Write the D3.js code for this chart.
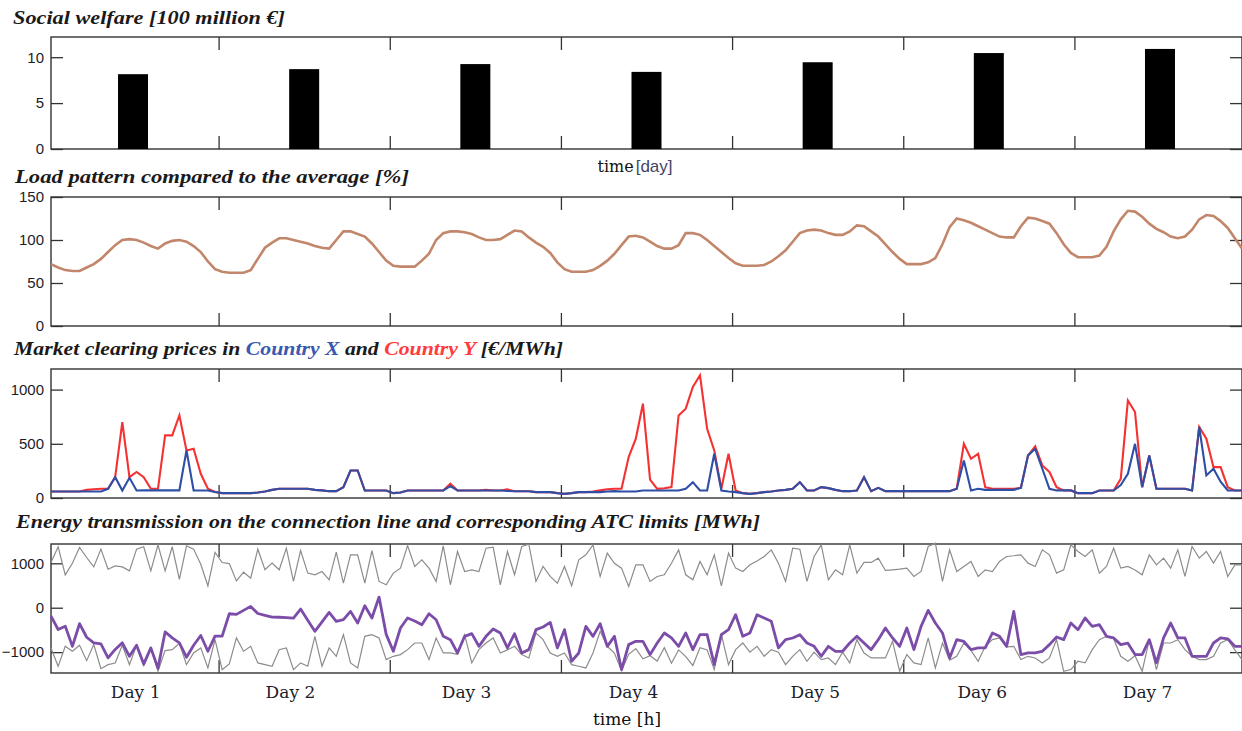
<!DOCTYPE html>
<html>
<head>
<meta charset="utf-8">
<script src="https://cdn.jsdelivr.net/npm/d3@7"></script>
<style>
  body { margin: 0; background: #fff; }
  svg { display: block; }
  .tick text { font-family: "Liberation Sans", Arial, sans-serif; font-size: 15px; fill: #1c1c28; }
  .title { font-family: "Liberation Serif", serif; font-weight: bold; font-style: italic; font-size: 19px; fill: #1a1a1a; }
</style>
</head>
<body>
<svg id="chart" width="1242" height="731"></svg>
<script>
// --- data -------------------------------------------------------------
const days = [1, 2, 3, 4, 5, 6, 7];
const welfare = [8.15, 8.7, 9.25, 8.4, 9.45, 10.45, 10.9];
const hours = d3.range(1, 169);

const load = [
  72, 68, 65, 64, 64, 68, 72, 78, 86, 94,
  100, 101, 100, 97, 93, 90, 96, 99, 100, 98,
  93, 86, 75, 66, 63, 62, 62, 62, 65, 78,
  91, 97, 102, 102, 100, 98, 96, 93, 91, 90,
  100, 110, 110, 107, 104, 96, 86, 76, 70, 69,
  69, 69, 76, 84, 100, 108, 110, 110, 109, 107,
  103, 100, 100, 101, 106, 111, 110, 103, 97, 92,
  85, 74, 66, 63, 63, 63, 65, 70, 76, 84,
  94, 104, 105, 103, 98, 93, 90, 90, 94, 108,
  108, 106, 100, 93, 86, 79, 73, 70, 70, 70,
  71, 75, 81, 88, 98, 108, 111, 112, 111, 108,
  106, 106, 110, 117, 116, 110, 104, 95, 86, 78,
  72, 72, 72, 74, 79, 95, 115, 125, 123, 120,
  116, 112, 108, 104, 103, 103, 116, 126, 125, 122,
  119, 108, 95, 85, 80, 80, 80, 82, 92, 110,
  124, 134, 133, 127, 119, 113, 109, 104, 102, 104,
  112, 124, 129, 128, 122, 114, 102, 90
];

const priceX = [
  60, 60, 60, 60, 60, 60, 60, 60, 85, 192,
  69, 186, 69, 70, 70, 70, 70, 70, 70, 439,
  69, 69, 69, 55, 45, 45, 45, 45, 45, 50,
  60, 75, 85, 85, 85, 85, 85, 75, 70, 63,
  63, 100, 254, 254, 69, 69, 69, 69, 45, 50,
  69, 69, 69, 69, 69, 69, 109, 69, 69, 69,
  69, 69, 69, 69, 65, 62, 62, 62, 54, 54,
  54, 45, 38, 45, 54, 54, 54, 54, 60, 63,
  60, 60, 60, 69, 69, 69, 69, 69, 69, 85,
  146, 69, 69, 408, 69, 60, 54, 45, 38, 45,
  54, 60, 69, 75, 85, 146, 69, 69, 100, 91,
  75, 63, 63, 69, 192, 63, 94, 63, 63, 63,
  63, 63, 63, 63, 63, 63, 63, 85, 347, 69,
  85, 75, 75, 75, 75, 75, 94, 393, 454, 270,
  85, 70, 70, 70, 45, 45, 45, 69, 69, 69,
  120, 223, 500, 100, 393, 85, 85, 85, 85, 85,
  69, 655, 208, 270, 150, 69, 69, 69
];

const priceY = [
  60, 60, 60, 60, 60, 75, 80, 85, 85, 192,
  700, 192, 240, 192, 85, 85, 578, 578, 762, 439,
  454, 223, 85, 55, 45, 45, 45, 45, 45, 50,
  60, 75, 85, 85, 85, 85, 85, 75, 70, 63,
  63, 100, 254, 254, 69, 69, 69, 69, 45, 50,
  69, 69, 69, 69, 69, 69, 131, 69, 69, 69,
  69, 75, 69, 69, 80, 62, 62, 62, 54, 54,
  54, 45, 38, 45, 54, 54, 60, 70, 80, 85,
  85, 377, 547, 870, 170, 85, 90, 100, 762, 824,
  1024, 1132, 639, 439, 85, 408, 69, 45, 38, 45,
  54, 60, 69, 75, 85, 146, 69, 69, 100, 91,
  75, 63, 63, 69, 192, 63, 94, 63, 63, 63,
  63, 63, 63, 63, 63, 63, 63, 85, 500, 362,
  408, 100, 85, 85, 85, 85, 94, 393, 477, 300,
  240, 100, 70, 70, 45, 45, 45, 69, 69, 69,
  177, 900, 793, 100, 393, 85, 85, 85, 85, 85,
  69, 655, 547, 285, 285, 100, 69, 69
];

const flow = [
  -190, -490, -415, -870, -360, -665, -790, -815, -1130, -940,
  -790, -1095, -845, -1270, -905, -1360, -545, -680, -790, -1115,
  -845, -625, -980, -640, -640, -136, -150, -60, 30, -130,
  -170, -210, -215, -225, -232, -30, -280, -532, -320, -105,
  -307, -270, -82, -345, 45, -232, 240, -600, -981, -457,
  -232, -300, -382, -135, -270, -644, -719, -1019, -644, -584,
  -869, -644, -479, -569, -906, -584, -1019, -944, -494, -434,
  -330, -906, -494, -1206, -1019, -419, -644, -360, -869, -644,
  -1393, -831, -756, -756, -1056, -794, -569, -681, -869, -569,
  -944, -607, -607, -1281, -607, -494, -157, -644, -569, -157,
  -232, -307, -906, -719, -682, -607, -794, -869, -1094, -869,
  -981, -981, -794, -644, -794, -944, -719, -457, -681, -869,
  -457, -944, -419, -60, -345, -569, -1131, -719, -760, -944,
  -906, -906, -569, -644, -869, -82, -1056, -1019, -1019, -981,
  -831, -659, -719, -345, -494, -232, -419, -382, -644, -681,
  -831, -800, -1056, -1056, -719, -1243, -681, -345, -681, -681,
  -1094, -1094, -1094, -794, -681, -700, -869, -869
];

const atcUp = [
  1018, 1373, 739, 1000, 1357, 1131, 920, 1320, 867, 943,
  920, 830, 1320, 1373, 830, 1418, 830, 1373, 641, 1395,
  1320, 980, 490, 1244, 1018, 995, 603, 800, 667, 1318,
  854, 1004, 854, 1341, 592, 1288, 780, 742, 816, 629,
  1251, 554, 1191, 1191, 554, 1288, 592, 517, 779, 891,
  1400, 929, 1079, 891, 592, 1393, 517, 1266, 816, 854,
  816, 1341, 1363, 517, 1266, 742, 1378, 1431, 592, 929,
  704, 554, 929, 494, 1079, 1191, 1416, 704, 1228, 1000,
  891, 479, 966, 966, 592, 704, 742, 1000, 1303, 742,
  629, 1041, 742, 1191, 494, 1228, 891, 816, 966, 1050,
  1153, 1303, 1004, 592, 1341, 1318, 592, 1153, 1416, 629,
  854, 742, 1416, 779, 1019, 1019, 1116, 839, 854, 870,
  891, 704, 816, 1378, 1453, 592, 1303, 816, 930, 1041,
  704, 854, 816, 1041, 1153, 1170, 1191, 1004, 929, 1303,
  1191, 779, 854, 1416, 1266, 1153, 1303, 779, 929, 1341,
  891, 929, 850, 742, 1191, 966, 1116, 891, 1303, 704,
  1378, 1116, 1266, 1004, 1266, 704, 966, 966
];

const atcLo = [
  -905, -1320, -867, -980, -845, -1192, -830, -1373, -1282, -1244,
  -845, -1282, -845, -1300, -905, -1433, -965, -943, -800, -1282,
  -1018, -905, -1357, -716, -1395, -1267, -679, -980, -869, -1243,
  -1281, -1318, -944, -906, -1393, -1243, -1318, -644, -1318, -906,
  -1094, -607, -1243, -1356, -644, -607, -682, -1168, -1094, -1056,
  -944, -794, -794, -1168, -682, -1019, -1019, -1050, -607, -1243,
  -944, -794, -682, -1019, -950, -869, -1056, -1131, -569, -719,
  -1019, -1094, -1019, -1281, -1318, -1356, -1019, -532, -869, -1019,
  -1420, -1050, -920, -1150, -1080, -1200, -900, -1250, -950, -1100,
  -1300, -900, -950, -1393, -607, -1281, -944, -794, -1000, -869,
  -1094, -944, -1000, -1281, -1094, -944, -1206, -1000, -1168, -1131,
  -1281, -1000, -1243, -719, -1019, -1131, -1131, -1131, -756, -1431,
  -1056, -1243, -1281, -681, -1356, -794, -1180, -1094, -794, -960,
  -1206, -869, -719, -681, -880, -869, -1168, -1094, -1131, -1243,
  -1131, -719, -1431, -1393, -1206, -1243, -944, -719, -644, -700,
  -1094, -1206, -1080, -1431, -719, -1393, -794, -794, -719, -944,
  -1094, -1168, -1168, -1094, -794, -719, -950, -1168
];

const dayBounds = [24.5, 48.5, 72.5, 96.5, 120.5, 144.5];
const dayLabels = ["Day 1", "Day 2", "Day 3", "Day 4", "Day 5", "Day 6", "Day 7"];
const dayLabelHours = [12.8, 34.5, 59.2, 82.6, 108.1, 131.5, 154.7];

// --- layout -----------------------------------------------------------
const left = 51, right = 1242;
const svg = d3.select("#chart");
const x = d3.scaleLinear().domain([1, 168]).range([left, right]);

// caja con ticks hacia dentro, estilo matlab
function marco(top, bottom, domain, yTicks) {
  const y = d3.scaleLinear().domain(domain).range([bottom, top]);

  const gl = svg.append("g").attr("transform", `translate(${left},0)`)
    .call(d3.axisLeft(y).tickValues(yTicks).tickSizeInner(-12).tickSizeOuter(0)
      .tickPadding(7).tickFormat(d3.format("d")));
  gl.select(".domain").remove();

  const gr = svg.append("g").attr("transform", `translate(${right},0)`)
    .call(d3.axisRight(y).tickValues(yTicks).tickSizeInner(-12).tickSizeOuter(0).tickFormat(""));
  gr.select(".domain").remove();

  const gb = svg.append("g").attr("transform", `translate(0,${bottom})`)
    .call(d3.axisBottom(x).tickValues(dayBounds).tickSizeInner(-13).tickSizeOuter(0).tickFormat(""));
  gb.select(".domain").remove();

  const gt = svg.append("g").attr("transform", `translate(0,${top})`)
    .call(d3.axisTop(x).tickValues(dayBounds).tickSizeInner(-13).tickSizeOuter(0).tickFormat(""));
  gt.select(".domain").remove();

  svg.selectAll(".tick line").attr("stroke", "#333").attr("stroke-width", 1.3);

  svg.append("rect")
    .attr("x", left).attr("y", top)
    .attr("width", right - left).attr("height", bottom - top)
    .attr("fill", "none").attr("stroke", "#333").attr("stroke-width", 1.4);

  return y;
}

// el ancho se ajusta al del original
function titulo(txt, tx, ty, ancho) {
  return svg.append("text").attr("class", "title")
    .attr("x", tx).attr("y", ty)
    .attr("textLength", ancho).attr("lengthAdjust", "spacingAndGlyphs")
    .text(txt);
}

// 1. Social welfare
titulo("Social welfare [100 million €]", 13, 24, 272);
const y1 = marco(37, 149, [0, 12.2], [0, 5, 10]);
svg.append("g").selectAll("rect")
  .data(days)
  .join("rect")
  .attr("x", d => x((d - 1) * 24 + 12.5) - 15)
  .attr("width", 30)
  .attr("y", (d, i) => y1(welfare[i]))
  .attr("height", (d, i) => y1(0) - y1(welfare[i]))
  .attr("fill", "#000");

const etiq = svg.append("text").attr("x", 635).attr("y", 172).attr("text-anchor", "middle");
etiq.append("tspan").text("time")
  .style("font-family", "DejaVu Serif, serif").style("font-size", "16px").attr("fill", "#111");
etiq.append("tspan").text("[day]").attr("dx", 2)
  .style("font-family", "Liberation Sans, sans-serif").style("font-size", "17px").attr("fill", "#444466");

// 2. Load pattern
titulo("Load pattern compared to the average [%]", 15, 183, 394);
const y2 = marco(197, 326, [0, 150], [0, 50, 100, 150]);
svg.append("path")
  .datum(hours)
  .attr("fill", "none")
  .attr("stroke", "#c2866b")
  .attr("stroke-width", 2.6)
  .attr("d", d3.line().x(h => x(h)).y((h, i) => y2(load[i])));

// 3. Market clearing prices
const t3 = svg.append("text").attr("class", "title").attr("x", 14).attr("y", 355)
  .attr("textLength", 549).attr("lengthAdjust", "spacingAndGlyphs");
t3.append("tspan").text("Market clearing prices in ");
t3.append("tspan").text("Country X").attr("fill", "#3a58b0");
t3.append("tspan").text(" and ");
t3.append("tspan").text("Country Y").attr("fill", "#ff3b3b");
t3.append("tspan").text(" [€/MWh]");
const y3 = marco(369, 498, [0, 1190], [0, 500, 1000]);
const lineaP = serie => d3.line().x(h => x(h)).y((h, i) => y3(serie[i]));
svg.append("path").datum(hours)
  .attr("fill", "none").attr("stroke", "#f43232").attr("stroke-width", 2.1)
  .attr("d", lineaP(priceY));
svg.append("path").datum(hours)
  .attr("fill", "none").attr("stroke", "#2f4fa6").attr("stroke-width", 2.1)
  .attr("d", lineaP(priceX));

// 4. Energy transmission
titulo("Energy transmission on the connection line and corresponding ATC limits [MWh]", 16, 528, 744);
const y4 = marco(544, 673, [-1470, 1435], [-1000, 0, 1000]);
const lineaE = serie => d3.line().x(h => x(h)).y((h, i) => y4(serie[i]));
[atcUp, atcLo].forEach(s => {
  svg.append("path").datum(hours)
    .attr("fill", "none").attr("stroke", "#8c8c8c").attr("stroke-width", 1.2)
    .attr("d", lineaE(s));
});
svg.append("path").datum(hours)
  .attr("fill", "none").attr("stroke", "#7b4ca8").attr("stroke-width", 2.8)
  .attr("stroke-linejoin", "round")
  .attr("d", lineaE(flow));

// etiquetas de dias
const gd = svg.append("g").attr("transform", "translate(0,673)")
  .call(d3.axisBottom(x).tickValues(dayLabelHours).tickSize(0).tickPadding(13)
    .tickFormat((d, i) => dayLabels[i]));
gd.select(".domain").remove();
gd.selectAll("text").style("font-family", "DejaVu Serif, serif").style("font-size", "17px").attr("fill", "#111");

svg.append("text").attr("x", 627).attr("y", 725).attr("text-anchor", "middle")
  .style("font-family", "DejaVu Serif, serif").style("font-size", "17px").attr("fill", "#111")
  .text("time [h]");
</script>
</body>
</html>
